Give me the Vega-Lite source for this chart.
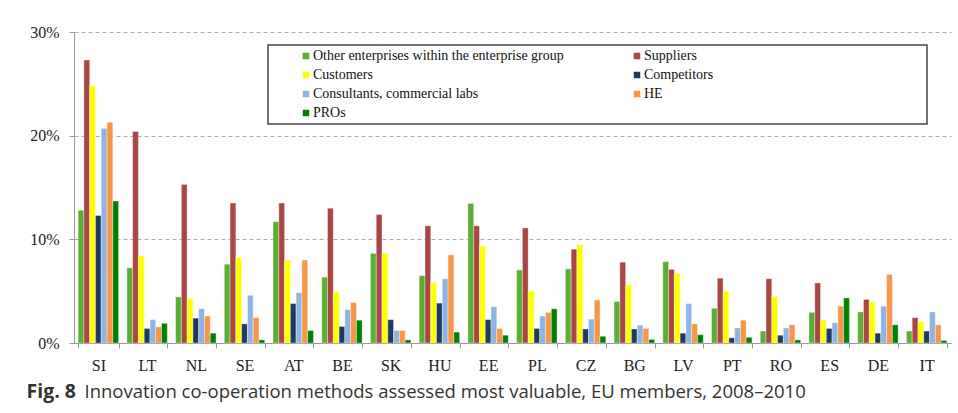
{
  "$schema": "https://vega.github.io/schema/vega-lite/v6.json",
  "width": 877,
  "height": 311,
  "autosize": {"type": "none"},
  "padding": {"left": 74, "top": 32, "right": 7, "bottom": 70},
  "background": "white",
  "data": {
    "values": [
      {"country": "SI", "partner": "Other enterprises within the enterprise group", "share": 12.8},
      {"country": "SI", "partner": "Suppliers", "share": 27.3},
      {"country": "SI", "partner": "Customers", "share": 24.8},
      {"country": "SI", "partner": "Competitors", "share": 12.3},
      {"country": "SI", "partner": "Consultants, commercial labs", "share": 20.7},
      {"country": "SI", "partner": "HE", "share": 21.3},
      {"country": "SI", "partner": "PROs", "share": 13.7},
      {"country": "LT", "partner": "Other enterprises within the enterprise group", "share": 7.25},
      {"country": "LT", "partner": "Suppliers", "share": 20.4},
      {"country": "LT", "partner": "Customers", "share": 8.4},
      {"country": "LT", "partner": "Competitors", "share": 1.4},
      {"country": "LT", "partner": "Consultants, commercial labs", "share": 2.25},
      {"country": "LT", "partner": "HE", "share": 1.55},
      {"country": "LT", "partner": "PROs", "share": 1.9},
      {"country": "NL", "partner": "Other enterprises within the enterprise group", "share": 4.45},
      {"country": "NL", "partner": "Suppliers", "share": 15.3},
      {"country": "NL", "partner": "Customers", "share": 4.3},
      {"country": "NL", "partner": "Competitors", "share": 2.4},
      {"country": "NL", "partner": "Consultants, commercial labs", "share": 3.3},
      {"country": "NL", "partner": "HE", "share": 2.6},
      {"country": "NL", "partner": "PROs", "share": 0.95},
      {"country": "SE", "partner": "Other enterprises within the enterprise group", "share": 7.6},
      {"country": "SE", "partner": "Suppliers", "share": 13.5},
      {"country": "SE", "partner": "Customers", "share": 8.25},
      {"country": "SE", "partner": "Competitors", "share": 1.85},
      {"country": "SE", "partner": "Consultants, commercial labs", "share": 4.6},
      {"country": "SE", "partner": "HE", "share": 2.45},
      {"country": "SE", "partner": "PROs", "share": 0.3},
      {"country": "AT", "partner": "Other enterprises within the enterprise group", "share": 11.7},
      {"country": "AT", "partner": "Suppliers", "share": 13.5},
      {"country": "AT", "partner": "Customers", "share": 8.0},
      {"country": "AT", "partner": "Competitors", "share": 3.8},
      {"country": "AT", "partner": "Consultants, commercial labs", "share": 4.85},
      {"country": "AT", "partner": "HE", "share": 8.0},
      {"country": "AT", "partner": "PROs", "share": 1.2},
      {"country": "BE", "partner": "Other enterprises within the enterprise group", "share": 6.35},
      {"country": "BE", "partner": "Suppliers", "share": 13.0},
      {"country": "BE", "partner": "Customers", "share": 4.95},
      {"country": "BE", "partner": "Competitors", "share": 1.6},
      {"country": "BE", "partner": "Consultants, commercial labs", "share": 3.2},
      {"country": "BE", "partner": "HE", "share": 3.9},
      {"country": "BE", "partner": "PROs", "share": 2.2},
      {"country": "SK", "partner": "Other enterprises within the enterprise group", "share": 8.65},
      {"country": "SK", "partner": "Suppliers", "share": 12.4},
      {"country": "SK", "partner": "Customers", "share": 8.65},
      {"country": "SK", "partner": "Competitors", "share": 2.25},
      {"country": "SK", "partner": "Consultants, commercial labs", "share": 1.2},
      {"country": "SK", "partner": "HE", "share": 1.2},
      {"country": "SK", "partner": "PROs", "share": 0.3},
      {"country": "HU", "partner": "Other enterprises within the enterprise group", "share": 6.5},
      {"country": "HU", "partner": "Suppliers", "share": 11.3},
      {"country": "HU", "partner": "Customers", "share": 5.85},
      {"country": "HU", "partner": "Competitors", "share": 3.85},
      {"country": "HU", "partner": "Consultants, commercial labs", "share": 6.2},
      {"country": "HU", "partner": "HE", "share": 8.5},
      {"country": "HU", "partner": "PROs", "share": 1.05},
      {"country": "EE", "partner": "Other enterprises within the enterprise group", "share": 13.45},
      {"country": "EE", "partner": "Suppliers", "share": 11.3},
      {"country": "EE", "partner": "Customers", "share": 9.35},
      {"country": "EE", "partner": "Competitors", "share": 2.25},
      {"country": "EE", "partner": "Consultants, commercial labs", "share": 3.5},
      {"country": "EE", "partner": "HE", "share": 1.4},
      {"country": "EE", "partner": "PROs", "share": 0.75},
      {"country": "PL", "partner": "Other enterprises within the enterprise group", "share": 7.05},
      {"country": "PL", "partner": "Suppliers", "share": 11.1},
      {"country": "PL", "partner": "Customers", "share": 5.0},
      {"country": "PL", "partner": "Competitors", "share": 1.4},
      {"country": "PL", "partner": "Consultants, commercial labs", "share": 2.6},
      {"country": "PL", "partner": "HE", "share": 2.95},
      {"country": "PL", "partner": "PROs", "share": 3.3},
      {"country": "CZ", "partner": "Other enterprises within the enterprise group", "share": 7.15},
      {"country": "CZ", "partner": "Suppliers", "share": 9.05},
      {"country": "CZ", "partner": "Customers", "share": 9.5},
      {"country": "CZ", "partner": "Competitors", "share": 1.35},
      {"country": "CZ", "partner": "Consultants, commercial labs", "share": 2.3},
      {"country": "CZ", "partner": "HE", "share": 4.15},
      {"country": "CZ", "partner": "PROs", "share": 0.65},
      {"country": "BG", "partner": "Other enterprises within the enterprise group", "share": 4.0},
      {"country": "BG", "partner": "Suppliers", "share": 7.8},
      {"country": "BG", "partner": "Customers", "share": 5.6},
      {"country": "BG", "partner": "Competitors", "share": 1.35},
      {"country": "BG", "partner": "Consultants, commercial labs", "share": 1.7},
      {"country": "BG", "partner": "HE", "share": 1.4},
      {"country": "BG", "partner": "PROs", "share": 0.35},
      {"country": "LV", "partner": "Other enterprises within the enterprise group", "share": 7.85},
      {"country": "LV", "partner": "Suppliers", "share": 7.1},
      {"country": "LV", "partner": "Customers", "share": 6.7},
      {"country": "LV", "partner": "Competitors", "share": 0.95},
      {"country": "LV", "partner": "Consultants, commercial labs", "share": 3.8},
      {"country": "LV", "partner": "HE", "share": 1.85},
      {"country": "LV", "partner": "PROs", "share": 0.8},
      {"country": "PT", "partner": "Other enterprises within the enterprise group", "share": 3.35},
      {"country": "PT", "partner": "Suppliers", "share": 6.25},
      {"country": "PT", "partner": "Customers", "share": 5.0},
      {"country": "PT", "partner": "Competitors", "share": 0.5},
      {"country": "PT", "partner": "Consultants, commercial labs", "share": 1.45},
      {"country": "PT", "partner": "HE", "share": 2.2},
      {"country": "PT", "partner": "PROs", "share": 0.55},
      {"country": "RO", "partner": "Other enterprises within the enterprise group", "share": 1.15},
      {"country": "RO", "partner": "Suppliers", "share": 6.2},
      {"country": "RO", "partner": "Customers", "share": 4.5},
      {"country": "RO", "partner": "Competitors", "share": 0.75},
      {"country": "RO", "partner": "Consultants, commercial labs", "share": 1.45},
      {"country": "RO", "partner": "HE", "share": 1.75},
      {"country": "RO", "partner": "PROs", "share": 0.3},
      {"country": "ES", "partner": "Other enterprises within the enterprise group", "share": 2.95},
      {"country": "ES", "partner": "Suppliers", "share": 5.8},
      {"country": "ES", "partner": "Customers", "share": 2.2},
      {"country": "ES", "partner": "Competitors", "share": 1.4},
      {"country": "ES", "partner": "Consultants, commercial labs", "share": 1.95},
      {"country": "ES", "partner": "HE", "share": 3.55},
      {"country": "ES", "partner": "PROs", "share": 4.35},
      {"country": "DE", "partner": "Other enterprises within the enterprise group", "share": 3.0},
      {"country": "DE", "partner": "Suppliers", "share": 4.2},
      {"country": "DE", "partner": "Customers", "share": 3.95},
      {"country": "DE", "partner": "Competitors", "share": 0.95},
      {"country": "DE", "partner": "Consultants, commercial labs", "share": 3.55},
      {"country": "DE", "partner": "HE", "share": 6.6},
      {"country": "DE", "partner": "PROs", "share": 1.75},
      {"country": "IT", "partner": "Other enterprises within the enterprise group", "share": 1.15},
      {"country": "IT", "partner": "Suppliers", "share": 2.45},
      {"country": "IT", "partner": "Customers", "share": 2.1},
      {"country": "IT", "partner": "Competitors", "share": 1.15},
      {"country": "IT", "partner": "Consultants, commercial labs", "share": 3.0},
      {"country": "IT", "partner": "HE", "share": 1.75},
      {"country": "IT", "partner": "PROs", "share": 0.25}
    ]
  },
  "mark": {"type": "bar", "stroke": "white", "strokeWidth": 0.6, "strokeOpacity": 0.6},
  "encoding": {
    "x": {
      "field": "country",
      "type": "nominal",
      "sort": ["SI", "LT", "NL", "SE", "AT", "BE", "SK", "HU", "EE", "PL", "CZ", "BG", "LV", "PT", "RO", "ES", "DE", "IT"],
      "scale": {"paddingInner": 0.17, "paddingOuter": 0.085},
      "axis": {
        "title": "Innovation co-operation methods assessed most valuable, EU members, 2008–2010",
        "titleX": 10,
        "titleY": 54,
        "titleAlign": "left",
        "titleAnchor": "start",
        "titleBaseline": "alphabetic",
        "titleFont": "Open Sans",
        "titleFontSize": 18.5,
        "titleFontWeight": "normal",
        "titleColor": "#333333",
        "labelAngle": 0,
        "labelFont": "Liberation Serif",
        "labelFontSize": 16,
        "labelColor": "#222222",
        "labelPadding": 9,
        "tickBand": "extent",
        "tickSize": 5,
        "tickColor": "#999999",
        "domainColor": "#999999",
        "grid": false
      }
    },
    "xOffset": {
      "field": "partner",
      "type": "nominal",
      "sort": ["Other enterprises within the enterprise group", "Suppliers", "Customers", "Competitors", "Consultants, commercial labs", "HE", "PROs"],
      "scale": {"paddingInner": 0, "paddingOuter": 0}
    },
    "y": {
      "field": "share",
      "type": "quantitative",
      "scale": {"domain": [0, 30], "nice": false},
      "axis": {
        "values": [0, 10, 20, 30],
        "labelExpr": "datum.value + '%'",
        "labelFont": "Liberation Serif",
        "labelFontSize": 16,
        "labelColor": "#222222",
        "labelPadding": 10,
        "tickSize": 5,
        "tickColor": "#999999",
        "domainColor": "#999999",
        "grid": true,
        "gridColor": "#aaaaaa",
        "gridDash": [4, 3],
        "title": "Fig. 8",
        "titleAngle": 0,
        "titleX": -48,
        "titleY": 365,
        "titleAlign": "left",
        "titleBaseline": "alphabetic",
        "titleFont": "Open Sans",
        "titleFontSize": 19.5,
        "titleFontWeight": "bold",
        "titleColor": "#333333"
      }
    },
    "color": {
      "field": "partner",
      "type": "nominal",
      "scale": {
        "domain": ["Other enterprises within the enterprise group", "Suppliers", "Customers", "Competitors", "Consultants, commercial labs", "HE", "PROs"],
        "range": ["#5aae33", "#aa4643", "#ffff00", "#1f3a60", "#8db4e2", "#f79646", "#008000"]
      },
      "legend": {
        "orient": "none",
        "legendX": 194,
        "legendY": 13,
        "direction": "horizontal",
        "columns": 2,
        "gridAlign": "each",
        "title": " ",
        "titleOrient": "right",
        "titlePadding": 210,
        "padding": 4,
        "strokeColor": "#444444",
        "fillColor": "white",
        "symbolType": "square",
        "symbolSize": 42,
        "symbolStrokeWidth": 0,
        "symbolOffset": 27,
        "labelFont": "Liberation Serif",
        "labelFontSize": 14,
        "labelColor": "#111111",
        "labelOffset": 0,
        "labelLimit": 600,
        "columnPadding": 39,
        "rowPadding": 5
      }
    }
  },
  "config": {
    "font": "Liberation Serif",
    "view": {"stroke": null},
    "legend": {"strokeWidth": 1.5, "labelFont": "Liberation Serif", "titleFont": "Liberation Serif"}
  }
}
